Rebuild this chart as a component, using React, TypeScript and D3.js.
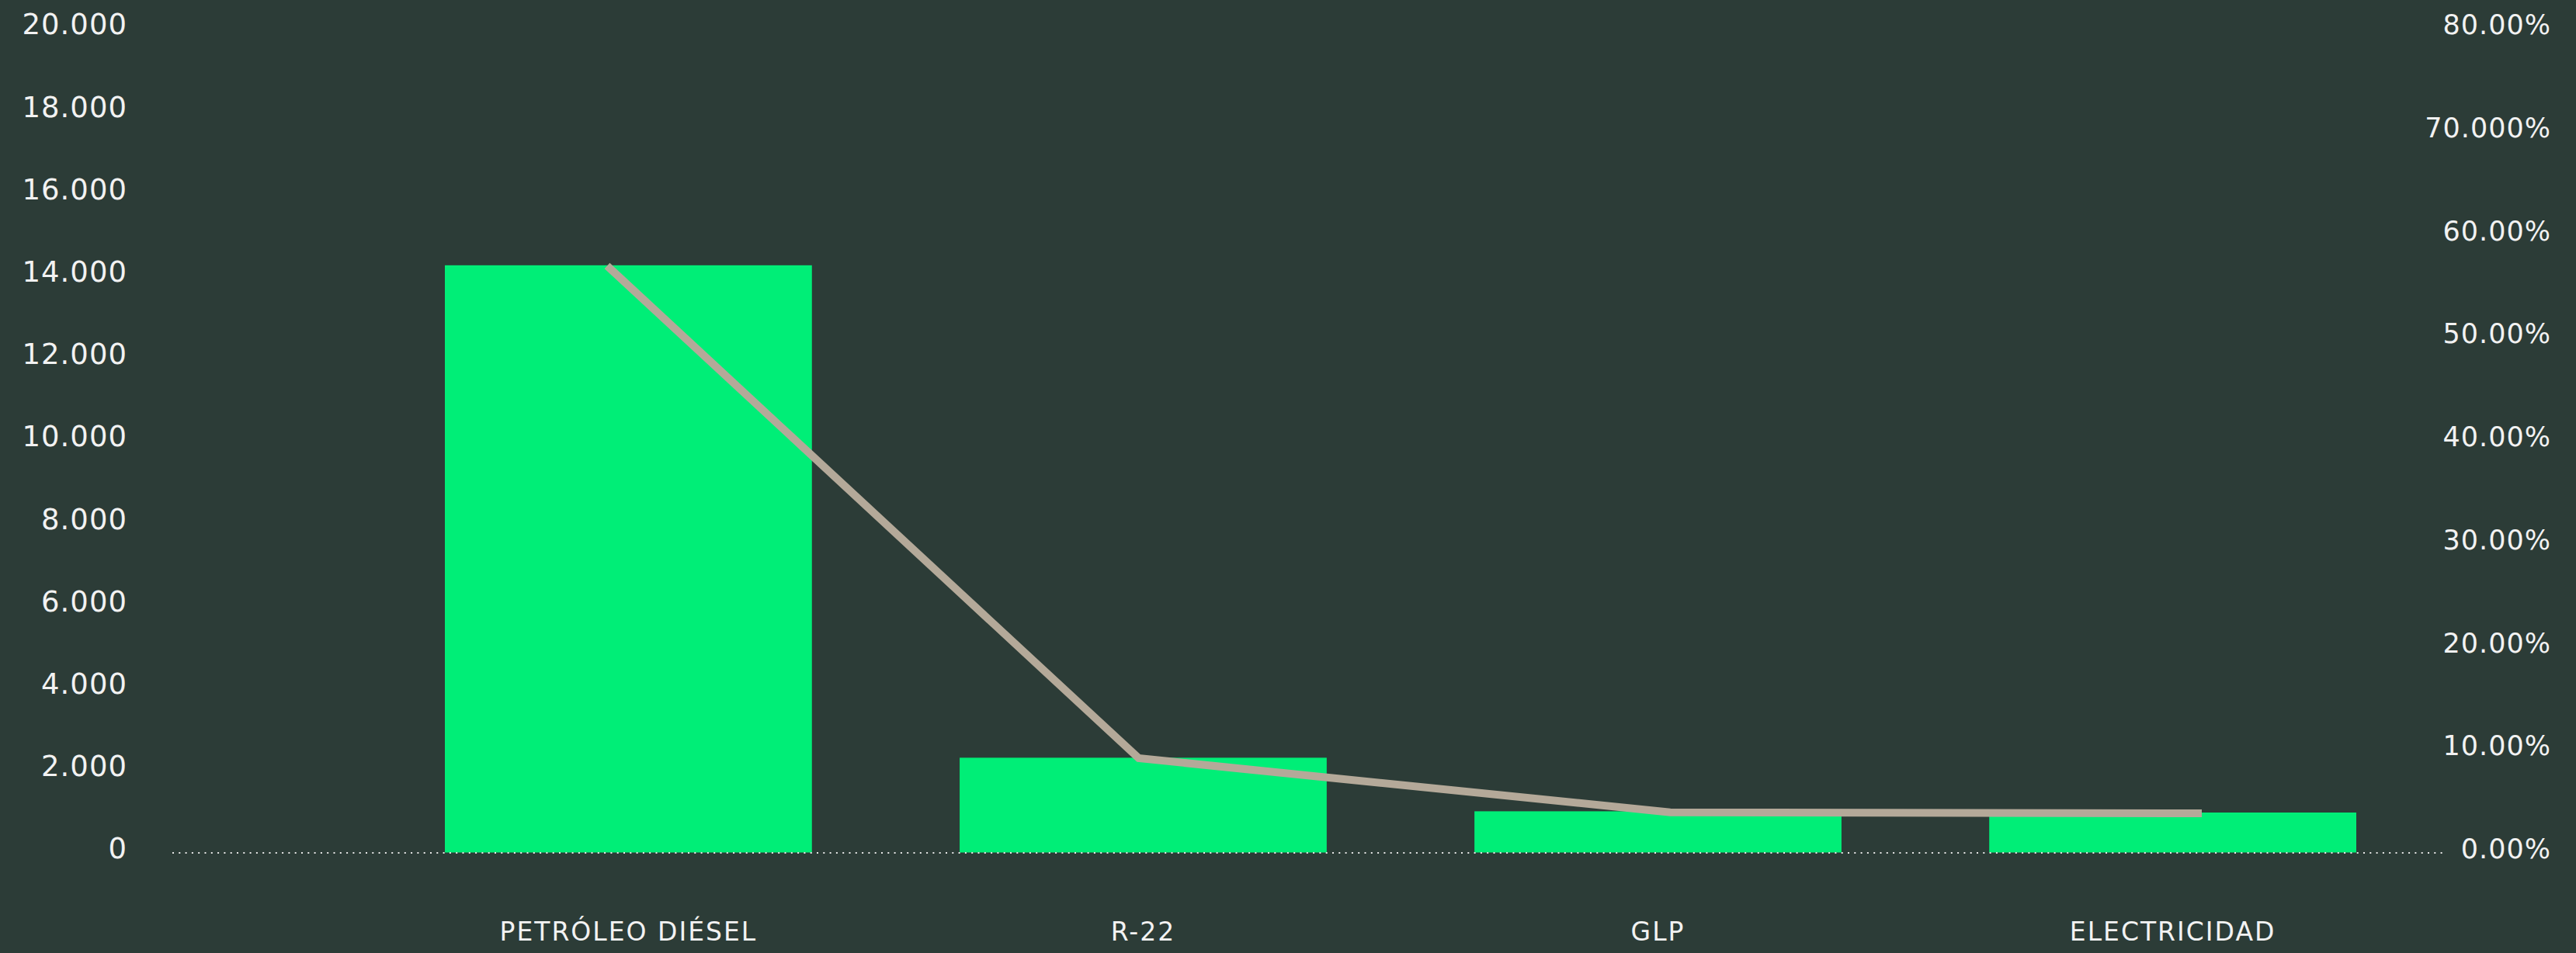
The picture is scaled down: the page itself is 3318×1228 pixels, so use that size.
import { useEffect, useRef } from "react";
import * as d3 from "d3";

const width = 3318;
const height = 1228;

// data
const categories = ["PETRÓLEO DIÉSEL", "R-22", "GLP", "ELECTRICIDAD"];
const barValues = [14250, 2300, 1000, 970];
const lineValues = [56.95, 9.15, 3.9, 3.8];
const leftTicks = [0, 2000, 4000, 6000, 8000, 10000, 12000, 14000, 16000, 18000, 20000];
const rightTicks = [0, 10, 20, 30, 40, 50, 60, 70, 80];
const rightTickLabels = ["0.00%", "10.00%", "20.00%", "30.00%", "40.00%", "50.00%", "60.00%", "70.000%", "80.00%"];

const bg = "#2c3c37";
const barColor = "#00ee77";
const lineColor = "#b4a999";
const textColor = "#f2f2f2";

export default function App() {
  const ref = useRef<HTMLDivElement | null>(null);

  useEffect(() => {
    if (!ref.current) return;
    document.body.style.margin = "0";

    // Remove any existing SVG
    d3.select(ref.current).selectAll("svg").remove();

    const svg = d3
      .select(ref.current)
      .append("svg")
      .attr("width", width)
      .attr("height", height)
      .style("display", "block")
      .style("background", bg);

    const locale = d3.formatLocale({
      decimal: ",",
      thousands: ".",
      grouping: [3],
      currency: ["", ""],
    });
    const fmt = locale.format(",.0f");

    const yLeft = d3.scaleLinear([0, 20000], [1098.5, 36.5]);
    const yRight = d3.scaleLinear([0, 80], [1098.5, 36.5]);

    const x = d3
      .scaleBand<string>()
      .domain(categories)
      .range([573, 3035])
      .paddingInner(0.287)
      .paddingOuter(0);

    const xLine = d3.scalePoint<string>().domain(categories).range([782, 2836]);

    // left axis
    const leftAxis = d3
      .axisLeft(yLeft)
      .tickValues(leftTicks)
      .tickFormat((d) => fmt(d as number))
      .tickSize(0)
      .tickPadding(0);
    const leftG = svg
      .append("g")
      .attr("transform", "translate(164,0)")
      .call(leftAxis);
    leftG.select(".domain").remove();
    leftG
      .selectAll("text")
      .attr("dy", "0.2em")
      .attr("fill", textColor)
      .style("font-family", "'DejaVu Sans', sans-serif")
      .style("font-size", "37px")
      .style("letter-spacing", "1px");

    // right axis
    const rightAxis = d3
      .axisRight(yRight)
      .tickValues(rightTicks)
      .tickFormat((_, i) => rightTickLabels[i])
      .tickSize(0)
      .tickPadding(0);
    const rightG = svg
      .append("g")
      .attr("transform", "translate(3286,0)")
      .call(rightAxis);
    rightG.select(".domain").remove();
    rightG
      .selectAll("text")
      .attr("text-anchor", "end")
      .attr("dy", "0.2em")
      .attr("fill", textColor)
      .style("font-family", "'DejaVu Sans', sans-serif")
      .style("font-size", "35px")
      .style("letter-spacing", "1px");

    // bars
    svg
      .selectAll("rect.bar")
      .data(barValues)
      .enter()
      .append("rect")
      .attr("class", "bar")
      .attr("x", (_, i) => x(categories[i]) as number)
      .attr("y", (d) => yLeft(d))
      .attr("width", x.bandwidth())
      .attr("height", (d) => yLeft(0) - yLeft(d))
      .attr("fill", barColor);

    // dotted baseline
    svg
      .append("line")
      .attr("x1", 222)
      .attr("x2", 3148)
      .attr("y1", yLeft(0) + 0.5)
      .attr("y2", yLeft(0) + 0.5)
      .attr("stroke", "#e6e6e6")
      .attr("stroke-width", 2)
      .attr("stroke-dasharray", "2 6.3");

    // line
    const line = d3
      .line<number>()
      .x((_, i) => xLine(categories[i]) as number)
      .y((d) => yRight(d));
    svg
      .append("path")
      .datum(lineValues)
      .attr("d", line)
      .attr("fill", "none")
      .attr("stroke", lineColor)
      .attr("stroke-width", 10)
      .attr("stroke-linejoin", "miter");

    // category labels
    svg
      .selectAll("text.cat")
      .data(categories)
      .enter()
      .append("text")
      .attr("class", "cat")
      .attr("x", (d) => (x(d) as number) + x.bandwidth() / 2)
      .attr("y", 1212)
      .attr("text-anchor", "middle")
      .attr("fill", textColor)
      .style("font-family", "'DejaVu Sans', sans-serif")
      .style("font-size", "33px")
      .style("letter-spacing", "2px")
      .text((d) => d);

    // eslint-disable-next-line react-hooks/exhaustive-deps
  }, []);

  return <div ref={ref} style={{ width, height }} />;
}
